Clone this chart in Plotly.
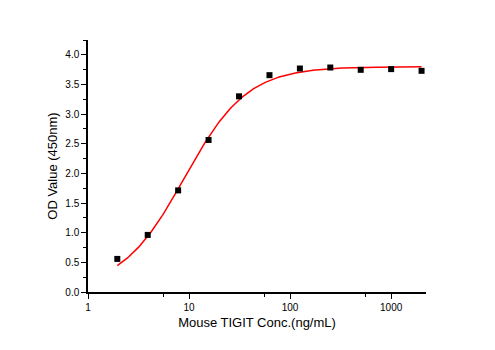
import numpy as np
import plotly.graph_objects as go

# Data
conc = [1.95, 3.9, 7.8, 15.6, 31.25, 62.5, 125, 250, 500, 1000, 2000]
od = [0.558, 0.963, 1.714, 2.564, 3.30, 3.657, 3.769, 3.786, 3.747, 3.759, 3.73]
x_tick_vals = [1, 10, 100, 1000]
x_tick_text = ["1", "10", "100", "1000"]
x_minor_vals = [5.55, 55.5, 555]

# 4-parameter logistic fit parameters (as drawn in the reference)
fit_bottom = 0.05
fit_top = 3.80
fit_ec50 = 9.0
fit_hill = 1.4


def logistic4(xx):
    return fit_top + (fit_bottom - fit_top) / (1.0 + (xx / fit_ec50) ** fit_hill)


xc = np.logspace(np.log10(conc[0]), np.log10(conc[-1]), 300)
yc = logistic4(xc)

fig = go.Figure()
fig.add_trace(go.Scatter(x=xc, y=yc, mode="lines",
                         line=dict(color="#ff0000", width=1.5),
                         hoverinfo="skip", showlegend=False))
fig.add_trace(go.Scatter(x=conc, y=od, mode="markers",
                         marker=dict(symbol="square", size=6, color="black"),
                         showlegend=False))

font = "Liberation Sans, Arial, sans-serif"
fig.update_layout(
    width=495, height=350,
    margin=dict(l=88, r=69, t=40, b=58),
    paper_bgcolor="white", plot_bgcolor="white",
    font=dict(family=font, color="black"),
    xaxis=dict(
        type="log", range=[0, 3.345],
        showline=True, linecolor="black", linewidth=1.5,
        ticks="outside", ticklen=5, tickwidth=1.3, tickcolor="black",
        tickvals=x_tick_vals, ticktext=x_tick_text,
        tickfont=dict(size=10),
        minor=dict(ticks="outside", ticklen=3, tickwidth=1.2,
                   tickcolor="black", tickvals=x_minor_vals, showgrid=False),
        showgrid=False, zeroline=False,
        title=dict(text="Mouse TIGIT Conc.(ng/mL)", font=dict(size=13), standoff=6),
    ),
    yaxis=dict(
        range=[0, 4.25],
        showline=True, linecolor="black", linewidth=1.5,
        ticks="outside", ticklen=5, tickwidth=1.3, tickcolor="black",
        dtick=0.5, tick0=0, tickformat=".1f",
        tickfont=dict(size=10),
        minor=dict(ticks="outside", ticklen=3, tickwidth=1.2,
                   tickcolor="black", dtick=0.25, showgrid=False),
        showgrid=False, zeroline=False,
        title=dict(text="OD Value (450nm)", font=dict(size=13), standoff=5),
    ),
)

fig.write_html("out.html")
